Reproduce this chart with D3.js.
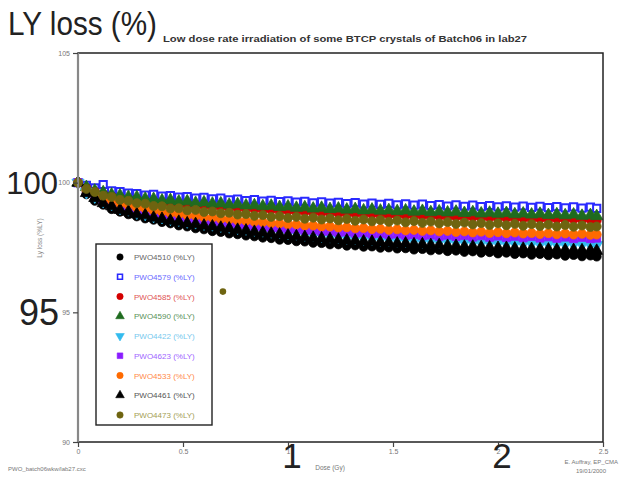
<!DOCTYPE html>
<html><head><meta charset="utf-8">
<script src="https://cdn.jsdelivr.net/npm/d3@7"></script>
<style>
html,body{margin:0;padding:0;background:#fff;}
svg{display:block;font-family:"Liberation Sans",Arial,sans-serif;}
</style></head>
<body>
<svg id="c" width="620" height="491"></svg>
<script>
// ---------- data ----------
const doses = [0,0.04,0.08,0.12,0.16,0.20,0.24,0.28,0.32,0.36,0.40,0.44,0.48,0.52,0.56,0.60,0.64,0.68,0.72,0.76,0.80,0.84,0.88,0.92,0.96,1.00,
1.04,1.08,1.12,1.16,1.20,1.24,1.28,1.32,1.36,1.40,1.44,1.48,1.52,1.56,1.60,1.64,1.68,1.72,1.76,1.80,1.84,1.88,1.92,1.96,2.00,2.04,2.08,2.12,2.16,2.20,2.24,2.28,2.32,2.36,2.40,2.44,2.47];

const pwo4510 = [100.0,99.55,99.30,99.15,98.98,98.88,98.78,98.70,98.62,98.57,98.48,98.43,98.35,98.31,98.24,98.20,98.13,98.10,98.04,98.01,97.96,97.93,97.88,97.86,97.80,97.79,
97.74,97.73,97.68,97.67,97.62,97.62,97.57,97.58,97.53,97.54,97.49,97.50,97.46,97.47,97.42,97.44,97.39,97.41,97.36,97.38,97.33,97.35,97.30,97.32,97.27,97.30,97.25,97.27,97.22,97.25,97.20,97.23,97.18,97.21,97.16,97.19,97.15];
const pwo4579 = [100.0,99.90,99.80,99.93,99.68,99.66,99.60,99.58,99.52,99.55,99.48,99.50,99.44,99.46,99.40,99.43,99.38,99.40,99.34,99.37,99.31,99.35,99.29,99.32,99.27,99.30,
99.25,99.28,99.22,99.26,99.21,99.24,99.19,99.23,99.17,99.21,99.16,99.20,99.14,99.18,99.13,99.17,99.12,99.15,99.10,99.14,99.09,99.13,99.08,99.12,99.07,99.11,99.06,99.10,99.05,99.09,99.04,99.08,99.03,99.07,99.02,99.06,99.01];
const pwo4585 = [100.0,99.80,99.66,99.57,99.48,99.43,99.36,99.34,99.27,99.25,99.19,99.20,99.13,99.14,99.09,99.10,99.05,99.06,99.01,99.02,98.97,98.98,98.93,98.95,98.89,98.91,
98.86,98.88,98.83,98.85,98.80,98.82,98.78,98.80,98.75,98.78,98.73,98.75,98.71,98.74,98.69,98.72,98.67,98.70,98.66,98.68,98.64,98.67,98.62,98.65,98.61,98.64,98.60,98.62,98.58,98.61,98.57,98.60,98.56,98.59,98.55,98.58,98.54];
const pwo4590 = [100.0,99.83,99.69,99.63,99.54,99.51,99.45,99.44,99.38,99.37,99.31,99.33,99.27,99.28,99.22,99.24,99.19,99.20,99.15,99.17,99.12,99.13,99.09,99.11,99.06,99.08,
99.03,99.05,99.00,99.03,98.98,99.00,98.96,98.98,98.93,98.96,98.92,98.94,98.90,98.93,98.88,98.91,98.86,98.89,98.85,98.88,98.83,98.86,98.81,98.84,98.80,98.83,98.78,98.81,98.77,98.80,98.75,98.78,98.74,98.77,98.72,98.75,98.71];
const pwo4422 = [100.0,99.64,99.47,99.29,99.18,99.03,98.98,98.85,98.80,98.72,98.68,98.61,98.58,98.51,98.48,98.43,98.40,98.35,98.32,98.27,98.24,98.20,98.17,98.13,98.11,98.06,
98.05,98.01,97.99,97.96,97.94,97.91,97.89,97.87,97.85,97.83,97.81,97.80,97.78,97.77,97.76,97.74,97.74,97.72,97.72,97.70,97.70,97.68,97.68,97.66,97.67,97.65,97.65,97.64,97.64,97.63,97.63,97.62,97.62,97.61,97.61,97.60,97.60];
const pwo4623 = [100.0,99.66,99.51,99.33,99.24,99.08,99.04,98.92,98.88,98.80,98.76,98.70,98.67,98.60,98.58,98.52,98.51,98.45,98.44,98.38,98.37,98.32,98.31,98.26,98.25,98.20,
98.21,98.16,98.17,98.12,98.13,98.08,98.10,98.05,98.07,98.02,98.04,97.99,98.02,97.97,98.00,97.95,97.98,97.93,97.97,97.92,97.96,97.90,97.95,97.89,97.94,97.88,97.93,97.87,97.92,97.86,97.91,97.85,97.90,97.84,97.89,97.84,97.86];
const pwo4533 = [100.0,99.70,99.56,99.38,99.32,99.18,99.14,99.03,99.00,98.92,98.88,98.82,98.79,98.74,98.72,98.66,98.65,98.60,98.59,98.54,98.53,98.49,98.48,98.44,98.43,98.39,
98.39,98.35,98.35,98.31,98.31,98.27,98.28,98.24,98.25,98.21,98.22,98.18,98.20,98.16,98.18,98.14,98.16,98.12,98.14,98.10,98.12,98.08,98.11,98.06,98.09,98.05,98.08,98.04,98.06,98.02,98.05,98.01,98.04,98.00,98.03,97.99,98.00];
const pwo4461 = [100.0,99.60,99.41,99.21,99.09,98.95,98.88,98.78,98.74,98.65,98.60,98.53,98.49,98.43,98.40,98.34,98.31,98.26,98.23,98.18,98.15,98.10,98.07,98.03,98.00,97.96,
97.93,97.90,97.87,97.85,97.82,97.80,97.77,97.76,97.73,97.72,97.69,97.68,97.65,97.65,97.62,97.62,97.59,97.59,97.56,97.56,97.53,97.53,97.51,97.50,97.48,97.48,97.46,97.45,97.44,97.43,97.42,97.41,97.40,97.40,97.39,97.38,97.37];
const pwo4473 = [100.0,99.76,99.64,99.50,99.45,99.34,99.30,99.21,99.19,99.10,99.09,99.00,99.01,98.93,98.95,98.87,98.89,98.82,98.84,98.77,98.79,98.72,98.75,98.68,98.71,98.64,
98.68,98.61,98.65,98.58,98.62,98.55,98.60,98.53,98.58,98.51,98.56,98.49,98.54,98.47,98.52,98.45,98.50,98.43,98.48,98.41,98.46,98.39,98.44,98.37,98.43,98.36,98.41,98.34,98.40,98.33,98.38,98.31,98.37,98.30,98.35,98.29,98.31];
const pwo4473Outlier = {dose: 0.69, value: 95.8};

const seriesNames = ["PWO4510 (%LY)","PWO4579 (%LY)","PWO4585 (%LY)","PWO4590 (%LY)","PWO4422 (%LY)","PWO4623 (%LY)","PWO4533 (%LY)","PWO4461 (%LY)","PWO4473 (%LY)"];
const seriesValues = [pwo4510,pwo4579,pwo4585,pwo4590,pwo4422,pwo4623,pwo4533,pwo4461,pwo4473];
const yTicks = [90,95,100,105];
const xTicks = [0,0.5,1,1.5,2,2.5];
const xTickLabels = ["0","0.5","1","1.5","2","2.5"];

// ---------- styles ----------
const markerColors = ["#000000","#2a2aff","#d40000","#1f6b1f","#33bbee","#8a1cff","#ff6a00","#000000","#6e6410"];
const textColors   = ["#666666","#6a6aff","#e05555","#5a925a","#77c9ee","#a066ff","#ff8a4a","#555555","#a49e55"];
const symbols = [d3.symbolCircle,d3.symbolSquare,d3.symbolCircle,d3.symbolTriangle,d3.symbolTriangle,d3.symbolSquare,d3.symbolCircle,d3.symbolTriangle,d3.symbolCircle];
const openMarker = [false,true,false,false,false,false,false,false,false];
const flipMarker = [false,false,false,false,true,false,false,false,false];

const svg = d3.select("#c");
const L = 78, R = 603, T = 53, B = 442;
const x = d3.scaleLinear().domain([0,2.5]).range([L,R]);
const y = d3.scaleLinear().domain([90,105]).range([B,T]);

// data points
seriesValues.forEach((vals,si)=>{
  const g = svg.append("g");
  const sym = d3.symbol().type(symbols[si]).size(openMarker[si]?52:64);
  g.selectAll("path").data(vals).join("path")
    .attr("d", sym)
    .attr("transform",(v,i)=>`translate(${x(doses[i])},${y(v)})${flipMarker[si]?" rotate(180)":""}`)
    .attr("fill", openMarker[si] ? "#fff" : markerColors[si])
    .attr("stroke", markerColors[si])
    .attr("stroke-width", openMarker[si] ? 2 : 0.8);
});
svg.append("path")
  .attr("d", d3.symbol().type(d3.symbolCircle).size(34)())
  .attr("transform",`translate(${x(pwo4473Outlier.dose)},${y(pwo4473Outlier.value)})`)
  .attr("fill", markerColors[8]);

// frame
svg.append("rect").attr("x",L).attr("y",T).attr("width",R-L).attr("height",B-T)
  .attr("fill","none").attr("stroke","#222").attr("stroke-width",1.5);
svg.append("line").attr("x1",L).attr("x2",L).attr("y1",T).attr("y2",B)
  .attr("stroke","#888").attr("stroke-width",2.2);

// axes
const yAxis = svg.append("g").attr("transform",`translate(${L},0)`)
  .call(d3.axisLeft(y).tickValues(yTicks).tickSize(5).tickPadding(3));
const xAxis = svg.append("g").attr("transform",`translate(0,${B})`)
  .call(d3.axisBottom(x).tickValues(xTicks).tickFormat((d,i)=>xTickLabels[i]).tickSize(5).tickPadding(2));
[yAxis,xAxis].forEach(a=>{
  a.select(".domain").remove();
  a.selectAll("line").attr("stroke","#444").attr("stroke-width",1.2);
  a.selectAll("text").attr("font-size",7).attr("fill","#777").attr("font-family","Liberation Sans, Arial");
});

// big annotations
svg.append("text").attr("x",8).attr("y",35).attr("font-size",34).attr("fill","#222")
  .attr("textLength",149).attr("lengthAdjust","spacingAndGlyphs").text("LY loss (%)");
svg.append("text").attr("x",163).attr("y",42).attr("font-size",8.6).attr("font-weight","bold").attr("fill","#333")
  .attr("textLength",364).attr("lengthAdjust","spacingAndGlyphs")
  .text("Low dose rate irradiation of some BTCP crystals of Batch06 in lab27");
svg.append("text").attr("x",58).attr("y",y(100)+11).attr("text-anchor","end").attr("font-size",31).attr("fill","#222").text("100");
svg.append("text").attr("x",59).attr("y",y(95)+13).attr("text-anchor","end").attr("font-size",36).attr("fill","#222").text("95");
svg.append("text").attr("x",x(1)+4).attr("y",468).attr("text-anchor","middle").attr("font-size",35).attr("fill","#222").text("1");
svg.append("text").attr("x",x(2)+4).attr("y",468).attr("text-anchor","middle").attr("font-size",35).attr("fill","#222").text("2");

// small axis titles / footers
svg.append("text").attr("transform","translate(42,238) rotate(-90)").attr("text-anchor","middle")
  .attr("font-size",6.5).attr("fill","#888").text("Ly loss (%LY)");
svg.append("text").attr("x",x(1.2)).attr("y",470).attr("text-anchor","middle").attr("font-size",6.5).attr("fill","#777").text("Dose (Gy)");
svg.append("text").attr("x",8).attr("y",471).attr("font-size",6).attr("fill","#777").text("PWO_batch06wkw/lab27.cxc");
svg.append("text").attr("x",618).attr("y",464).attr("text-anchor","end").attr("font-size",6).attr("fill","#777").text("E. Auffray, EP_CMA");
svg.append("text").attr("x",591).attr("y",473).attr("text-anchor","middle").attr("font-size",6).attr("fill","#777").text("19/01/2000");

// legend
const lg = svg.append("g");
lg.append("rect").attr("x",96).attr("y",244).attr("width",116).attr("height",181)
  .attr("fill","#fff").attr("stroke","#222").attr("stroke-width",1.4);
seriesNames.forEach((nm,si)=>{
  const yy = 257 + si*19.75;
  lg.append("path").attr("d", d3.symbol().type(symbols[si]).size(openMarker[si]?24:32)())
    .attr("transform",`translate(120,${yy})${flipMarker[si]?" rotate(180)":""}`)
    .attr("fill", openMarker[si] ? "none" : markerColors[si])
    .attr("stroke", markerColors[si]).attr("stroke-width", openMarker[si]?1.6:0.6);
  lg.append("text").attr("x",134).attr("y",yy+3).attr("font-size",8).attr("fill",textColors[si]).text(nm);
});
</script>
</body></html>
